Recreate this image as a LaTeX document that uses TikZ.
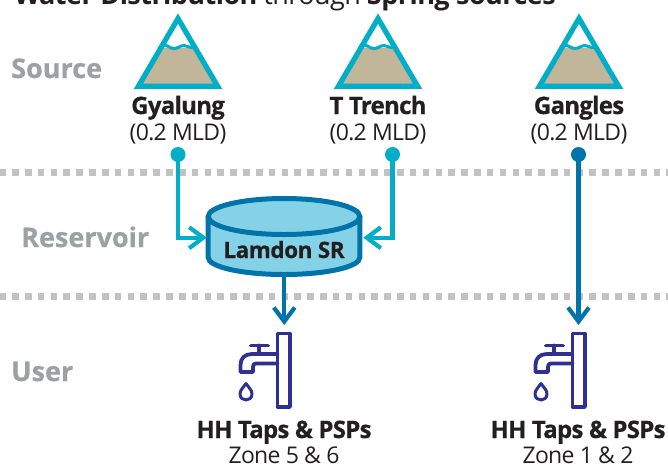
\documentclass[tikz,border=0pt]{standalone}
\usepackage{fontspec}
\setmainfont{Open Sans}
\usetikzlibrary{arrows.meta}
\definecolor{teal1}{HTML}{00AEC7}
\definecolor{blue1}{HTML}{0073A8}
\definecolor{tan1}{HTML}{C1B59A}
\definecolor{sky1}{HTML}{84D2E8}
\definecolor{tap1}{HTML}{2E3192}
\definecolor{grey1}{HTML}{9FA0A2}
\definecolor{dash1}{HTML}{C2C2C4}
\definecolor{ink1}{HTML}{231F20}
\tikzset{
  x=1pt,y=-1pt,
  rowlabel/.style={anchor=base west,inner sep=0,text=grey1,font=\fontsize{27}{27}\selectfont\bfseries\addfontfeatures{FakeBold=0.6}},
  namelabel/.style={anchor=base,inner sep=0,text=ink1,font=\fontsize{24}{24}\selectfont\bfseries\addfontfeatures{LetterSpace=-3,FakeBold=0.6}},
  sublabel/.style={anchor=base,inner sep=0,text=ink1,font=\fontsize{23}{24}\selectfont\addfontfeatures{LetterSpace=-3}},
  divider/.style={draw=dash1,line width=7pt,dash pattern=on 6.6pt off 6.23pt},
  tealline/.style={draw=teal1,line width=4.2pt,line join=miter},
  blueline/.style={draw=blue1,line width=4.2pt},
  headteal/.style={-{Straight Barb[length=14pt,width=21pt,line width=4.2pt,color=teal1]}},
  headblue/.style={-{Straight Barb[length=14pt,width=21pt,line width=4.2pt,color=blue1]}},
  tealdot/.style={circle,fill=teal1,minimum size=15pt,inner sep=0},
  bluedot/.style={circle,fill=blue1,minimum size=15pt,inner sep=0},
  tapline/.style={draw=tap1,line width=3.8pt,line join=round,line cap=round}
}
\newcommand{\mountain}[1]{%
  \begin{scope}[shift={(#1,0)}]
    \fill[tan1] (-18,48) -- (18,48) -- (38,86) -- (-38,86) -- cycle;
    \draw[teal1,line width=3pt] (-19,47.5) .. controls (-16,47) and (-15,45) .. (-12,45.5) .. controls (-9,46) and (-8,48.5) .. (-4,48.5) .. controls (0,48.5) and (2,45.5) .. (6,45.5) .. controls (9,45.5) and (10,47.5) .. (13,47.5) .. controls (15,47.5) and (17,47.5) .. (19,47);
    \draw[teal1,line width=5.2pt,line join=miter] (0,18.5) -- (39.6,86.2) -- (-39.6,86.2) -- cycle;
  \end{scope}}
\newcommand{\faucet}[1]{%
  \begin{scope}[shift={(#1,0)}]
    \draw[tapline] (277.5,333.5) rectangle (290,407);
    \draw[tapline] (251,345.5) -- (268,345.5);
    \draw[tapline] (259,345.5) -- (259,354);
    \draw[tapline] (277.5,354) -- (252,354) .. controls (245,354) and (240.5,358) .. (240.5,365) -- (240.5,372) -- (253,372) -- (253,367) .. controls (253,364.5) and (254,363.5) .. (256,363.5) -- (277.5,363.5);
    \draw[tap1,line width=3pt,line join=round] (246,383.5) .. controls (243,388) and (240,390) .. (240,394) .. controls (240,398) and (243,400) .. (246,400) .. controls (249,400) and (252,398) .. (252,394) .. controls (252,390) and (249,388) .. (246,383.5) -- cycle;
  \end{scope}}
\begin{document}
\begin{tikzpicture}
\useasboundingbox (0,0) rectangle (668,466);
% title, cut off by the top edge
\node[anchor=base west,inner sep=0,text=ink1,font=\fontsize{27}{27}\selectfont\addfontfeatures{LetterSpace=-2}] (title) at (14,4) {\textbf{Water Distribution} through \textbf{Spring sources}};
% dividers
\draw[divider] (-0.7,172) -- (668,172);
\draw[divider] (-0.7,296.5) -- (668,296.5);
% row labels
\node[rowlabel] (source) at (11,78) {Source};
\node[rowlabel] (reservoir) at (21,247) {Reservoir};
\node[rowlabel] (user) at (11,381) {User};
% mountains
\mountain{178}
\mountain{378}
\mountain{579}
% source labels
\node[namelabel] (n1) at (178,114) {Gyalung};
\node[sublabel] (m1) at (178,140) {(0.2 MLD)};
\node[namelabel] (n2) at (378,114) {T Trench};
\node[sublabel] (m2) at (378,140) {(0.2 MLD)};
\node[namelabel] (n3) at (579,114) {Gangles};
\node[sublabel] (m3) at (579,140) {(0.2 MLD)};
% dots
\node[tealdot] (d1) at (178,154.5) {};
\node[tealdot] (d2) at (392.5,154.5) {};
\node[bluedot] (d3) at (578.5,154.5) {};
% reservoir
\fill[sky1] (208.2,216.5) -- (208.2,257.5) arc[start angle=180,end angle=0,x radius=75.8,y radius=17] -- (359.8,216.5) -- cycle;
\draw[blue1,line width=5pt] (208.2,216.5) -- (208.2,257.5) arc[start angle=180,end angle=0,x radius=75.8,y radius=17] -- (359.8,216.5);
\draw[blue1,line width=5pt,fill=sky1] (284,216.5) ellipse[x radius=75.8,y radius=18];
\node[inner sep=0,anchor=base,text=ink1,font=\fontsize{22.5}{22}\selectfont\bfseries\addfontfeatures{LetterSpace=-2,FakeBold=0.6}] (sr) at (284,258) {Lamdon SR};
\coordinate (srl) at (206.7,237.7);
\coordinate (srr) at (363.3,237.7);
\coordinate (srb) at (284.3,276);
% taps
\faucet{0}
\faucet{295}
\coordinate (t1) at (284.3,325);
\coordinate (t2) at (578.5,325);
% connectors
\draw[tealline,headteal] (d1.center) |- (srl);
\draw[tealline,headteal] (d2.center) |- (srr);
\draw[blueline,headblue] (srb) -- (t1);
\draw[blueline,headblue] (d3.center) -- (t2);
% user labels
\node[namelabel] (u1) at (284,438) {HH Taps \& PSPs};
\node[sublabel] (z1) at (284,463.5) {Zone 5 \& 6};
\node[namelabel] (u2) at (578,438) {HH Taps \& PSPs};
\node[sublabel] (z2) at (578,463.5) {Zone 1 \& 2};
\end{tikzpicture}
\end{document}
